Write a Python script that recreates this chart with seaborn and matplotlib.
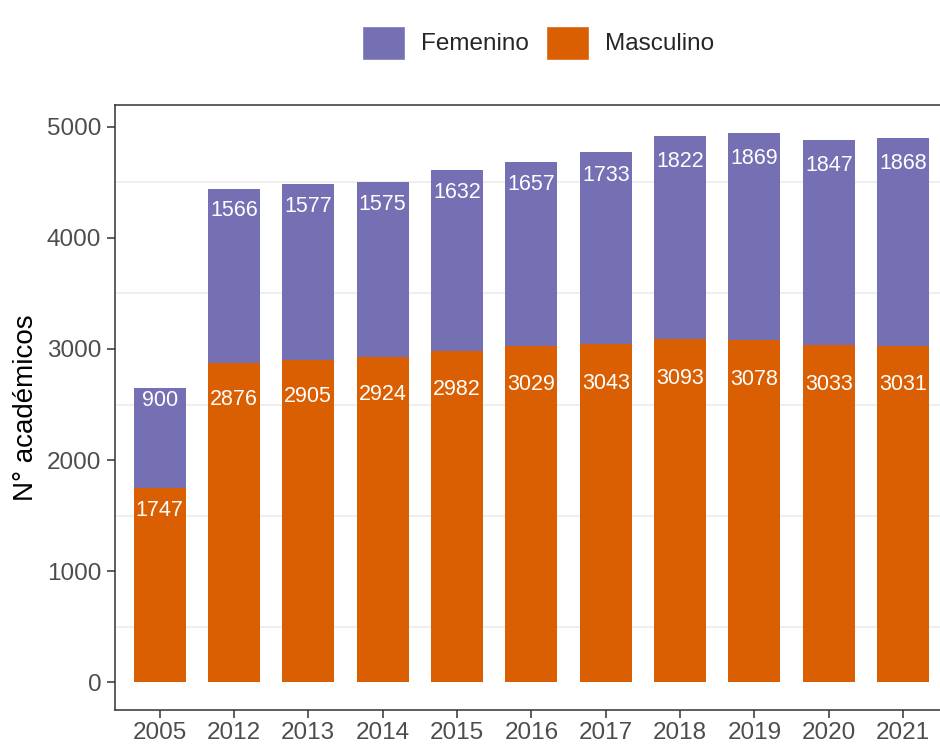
import pandas as pd
import matplotlib
matplotlib.use("Agg")
import matplotlib.pyplot as plt
from matplotlib.patches import Patch
import seaborn as sns

# data
years = ["2005", "2012", "2013", "2014", "2015", "2016", "2017", "2018", "2019", "2020", "2021"]
femenino = [900, 1566, 1577, 1575, 1632, 1657, 1733, 1822, 1869, 1847, 1868]
masculino = [1747, 2876, 2905, 2924, 2982, 3029, 3043, 3093, 3078, 3033, 3031]

col_fem = "#7570B3"
col_masc = "#D95F02"

df = pd.DataFrame({"year": years, "Femenino": femenino, "Masculino": masculino})
df["total"] = df["Femenino"] + df["Masculino"]

sns.set_style("white")
plt.rcParams["font.family"] = ["Liberation Sans", "DejaVu Sans"]

fig = plt.figure(figsize=(9.4, 7.45), dpi=100)
ax = fig.add_axes([0.1223, 0.047, 0.886, 0.812])

# stacked bars: total in purple, masculino on top of it in orange
sns.barplot(data=df, x="year", y="total", color=col_fem, width=0.7,
            saturation=1, linewidth=0, ax=ax, zorder=2)
sns.barplot(data=df, x="year", y="Masculino", color=col_masc, width=0.7,
            saturation=1, linewidth=0, ax=ax, zorder=3)

# value labels near the top of each segment
for i, row in df.iterrows():
    m = row["Masculino"]
    f = row["Femenino"]
    ax.text(i, 0.885 * m, str(m), ha="center", va="center",
            color="white", fontsize=15.5, zorder=4)
    ax.text(i, m + 0.875 * f, str(f), ha="center", va="center",
            color="white", fontsize=15.5, zorder=4)

top = df["total"].max()
ax.set_xlim(-0.6, len(years) - 0.4)
ax.set_ylim(-0.05 * top, top * 1.05)
ax.set_yticks([0, 1000, 2000, 3000, 4000, 5000])
ax.set_yticks([500, 1500, 2500, 3500, 4500], minor=True)
ax.grid(False)
ax.grid(which="minor", axis="y", color="#EBEBEB", linewidth=1.1, zorder=0)
ax.set_axisbelow(True)

for s in ["left", "bottom", "top", "right"]:
    ax.spines[s].set_color("#333333")
    ax.spines[s].set_linewidth(1.1)
ax.tick_params(axis="both", which="major", direction="out", length=5.8,
               width=1.1, color="#333333", labelsize=17.5, labelcolor="#4D4D4D",
               bottom=True, left=True)
ax.tick_params(axis="x", pad=3)
ax.tick_params(axis="y", pad=4)
ax.tick_params(which="minor", length=0)

ax.set_xlabel("")
ax.set_ylabel("N° académicos", fontsize=20, color="black", labelpad=6)

handles = [Patch(facecolor=col_fem, label="Femenino"),
           Patch(facecolor=col_masc, label="Masculino")]
fig.legend(handles=handles, loc="upper center", bbox_to_anchor=(538 / 940, 0.995),
           ncol=2, frameon=False, fontsize=17.5, handlelength=1.77,
           handleheight=1.77, handletextpad=0.66, columnspacing=0.7)

fig.savefig("out.png", dpi=100)
